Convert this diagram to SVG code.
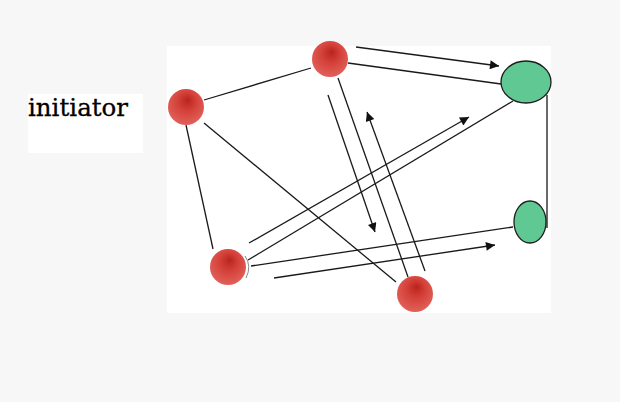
<svg xmlns="http://www.w3.org/2000/svg" width="620" height="402" viewBox="0 0 620 402">
<defs>
<radialGradient id="ball" cx="0.5" cy="0.42" r="0.58" fx="0.55" fy="0.3">
<stop offset="0" stop-color="#b8231f"/>
<stop offset="0.4" stop-color="#d23e36"/>
<stop offset="1" stop-color="#e2605a"/>
</radialGradient>
<marker id="ah" viewBox="0 0 10 10" refX="10" refY="5" markerWidth="11" markerHeight="9" markerUnits="userSpaceOnUse" orient="auto">
<path d="M0,0 L10,5 L0,10 Z" fill="#111"/>
</marker>
<style>
.ln{stroke:#1a1a1a;stroke-width:1.3;fill:none}
.ar{stroke:#1a1a1a;stroke-width:1.3;fill:none;marker-end:url(#ah)}
.red{fill:url(#ball)}
.grn{fill:#5fc893;stroke:#1e1e1e;stroke-width:1.3}
.lbl{font-family:"DejaVu Serif",serif;font-size:24.5px;fill:#000}
</style>
</defs>
<rect width="620" height="402" fill="#f7f7f7"/>
<rect x="167" y="46" width="384" height="267" fill="#ffffff"/>
<g id="label-initiator">
<rect x="28" y="94" width="115" height="59" fill="#ffffff"/>
<text class="lbl" x="28" y="116" stroke="#000" stroke-width="0.3">initiator</text>
</g>
<g id="connectors">
<line class="ln" x1="204" y1="100" x2="311" y2="68"/>
<line class="ln" x1="186" y1="125" x2="213" y2="249"/>
<line class="ln" x1="204" y1="123" x2="396" y2="282"/>
<line class="ln" x1="348" y1="63" x2="501" y2="84"/>
<line class="ln" x1="338" y1="78" x2="408" y2="277"/>
<line class="ln" x1="513" y1="101" x2="248" y2="260"/>
<line class="ln" x1="513" y1="227" x2="251" y2="266"/>
<line class="ln" x1="547" y1="95" x2="547" y2="228"/>
<line class="ar" x1="356" y1="47" x2="499" y2="66"/>
<line class="ar" x1="328" y1="95" x2="375" y2="232"/>
<line class="ar" x1="425" y1="271" x2="367" y2="112"/>
<line class="ar" x1="249" y1="243" x2="469" y2="117"/>
<line class="ar" x1="274" y1="278" x2="495" y2="245"/>
<path d="M245,256 Q252,266 246,278" stroke="#888" stroke-width="1" fill="none"/>
</g>
<g id="node-a"><circle class="red" cx="186" cy="107" r="18"/></g>
<g id="node-b"><circle class="red" cx="330" cy="59" r="18"/></g>
<g id="node-c"><circle class="red" cx="228" cy="267" r="18"/></g>
<g id="node-d"><circle class="red" cx="415" cy="294" r="18"/></g>
<g id="node-e"><ellipse class="grn" cx="526" cy="82" rx="25" ry="21"/></g>
<g id="node-f"><ellipse class="grn" cx="530" cy="222" rx="16" ry="21"/></g>
</svg>
